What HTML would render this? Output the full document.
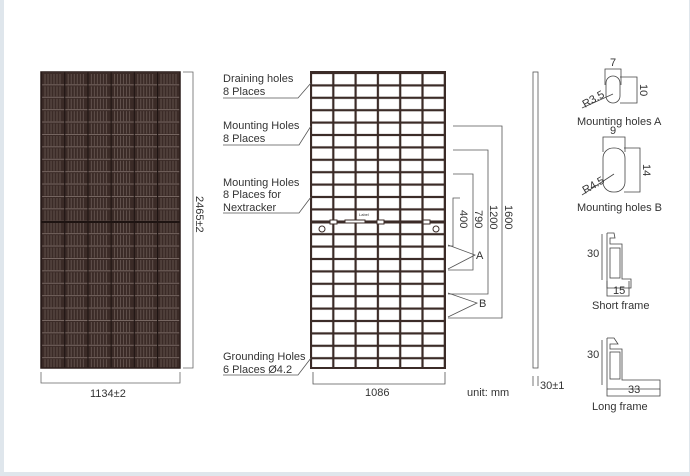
<!DOCTYPE html>
<html><head><meta charset="utf-8"><style>
html,body{margin:0;padding:0;background:#fff}
body{width:690px;height:476px;overflow:hidden;position:relative;font-family:"Liberation Sans",sans-serif}
#frame{position:absolute;left:0;top:0;width:690px;height:476px;box-sizing:border-box;border-left:4px solid #dfe6ec;border-bottom:4px solid #dfe6ec;border-right:1px solid #dfe6ec}
svg{position:absolute;left:0;top:0}
text{font-family:"Liberation Sans",sans-serif;font-size:11px;fill:#333}
</style></head><body><div id="frame"></div>
<svg width="690" height="476" viewBox="0 0 690 476">
<defs>
<pattern id="dk" x="41" y="73" width="23.2" height="12.4" patternUnits="userSpaceOnUse">
<rect width="23.2" height="12.4" fill="#3b2b27"/>
<g stroke="#7a6a64" stroke-width="0.6">
<line x1="4" y1="1" x2="4" y2="11"/><line x1="7" y1="1" x2="7" y2="11"/><line x1="10" y1="1" x2="10" y2="11"/><line x1="13" y1="1" x2="13" y2="11"/><line x1="16" y1="1" x2="16" y2="11"/><line x1="19" y1="1" x2="19" y2="11"/>
</g>
<line x1="0" y1="11.8" x2="23.2" y2="11.8" stroke="#9a8a84" stroke-width="0.6"/>
<line x1="0.5" y1="0" x2="0.5" y2="12.4" stroke="#1e1412" stroke-width="1.2"/>
</pattern>
<pattern id="gr" x="311" y="73" width="22.3" height="12.4" patternUnits="userSpaceOnUse">
<rect width="22.3" height="12.4" fill="#fff"/>
<rect x="0" y="0" width="22.3" height="12.4" fill="none" stroke="#3b2b27" stroke-width="2.2"/>
</pattern>
</defs>

<!-- left panel -->
<rect x="41" y="72" width="139" height="296" fill="url(#dk)" stroke="#2a1d1a" stroke-width="1.5"/>
<line x1="41" y1="222" x2="180" y2="222" stroke="#1e1412" stroke-width="2"/>
<g stroke="#666" stroke-width="0.8" fill="none">
<polyline points="183,72 193,72 193,368 183,368"/>
<polyline points="41,372 41,383 180,383 180,372"/>
</g>
<text x="0" y="0" transform="translate(196,196) rotate(90)">2465±2</text>
<text x="90" y="397">1134±2</text>

<!-- middle panel -->
<rect x="311" y="73" width="134" height="295" fill="url(#gr)"/>
<rect x="311" y="72" width="134" height="296" fill="none" stroke="#3b2b27" stroke-width="2"/>
<line x1="311" y1="222" x2="445" y2="222" stroke="#3b2b27" stroke-width="3"/>
<g fill="#fff" stroke="#3b2b27" stroke-width="1">
<rect x="330" y="220" width="7" height="4"/><rect x="345" y="220" width="20" height="3"/><rect x="377" y="220" width="7" height="4"/><rect x="423" y="220" width="7" height="4"/>
<circle cx="322" cy="229" r="3"/><circle cx="436" cy="229" r="3"/>
</g>
<text x="359" y="216" style="font-size:4px">Label</text>
<g stroke="#555" stroke-width="0.8" fill="none">
<polyline points="223,98 298,98 311,83"/>
<polyline points="223,145 299,145 311,126"/>
<polyline points="223,213 299,213 311,197"/>
<polyline points="223,375 298,375 311,358"/>
<polyline points="313,372 313,384 445,384 445,372"/>
<polyline points="453,126 502,126 502,318 448,318"/>
<polyline points="453,150 488,150 488,294 448,294"/>
<polyline points="453,174 473,174 473,270 448,270"/>
<polyline points="460,198 453,198 453,246 448,246"/>
<polyline points="448,245 475,255 448,269"/>
<polyline points="448,293 477,303 448,317"/>
</g>
<text x="223" y="82">Draining holes</text><text x="223" y="95">8 Places</text>
<text x="223" y="129">Mounting Holes</text><text x="223" y="142">8 Places</text>
<text x="223" y="186">Mounting Holes</text><text x="223" y="198">8 Places for</text><text x="223" y="211">Nextracker</text>
<text x="223" y="360">Grounding Holes</text><text x="223" y="373">6 Places Ø4.2</text>
<text x="365" y="396">1086</text>
<text x="467" y="396">unit: mm</text>
<text x="476" y="259">A</text><text x="479" y="307">B</text>
<text transform="translate(460,210) rotate(90)">400</text>
<text transform="translate(475,210) rotate(90)">790</text>
<text transform="translate(490,205) rotate(90)">1200</text>
<text transform="translate(505,205) rotate(90)">1600</text>

<!-- side frame -->
<rect x="533" y="72" width="5" height="296" fill="#fff" stroke="#555" stroke-width="0.8"/>
<g stroke="#555" stroke-width="0.8" fill="none"><polyline points="533,376 533,386"/><polyline points="538,376 538,386"/></g>
<text x="540" y="389">30±1</text>

<!-- mounting holes A -->
<g stroke="#444" stroke-width="0.8" fill="none">
<polyline points="605,85 605,69 621,69 621,85"/>
<polyline points="620,77 637,77 637,103 620,103"/>
<rect x="606" y="76" width="14" height="27" rx="7"/>
<line x1="582" y1="108" x2="613" y2="94"/>
<polyline points="603,152 603,137 625,137 625,152"/>
<polyline points="624,148 640,148 640,192 624,192"/>
<rect x="603" y="148" width="22" height="44" rx="10"/>
<line x1="582" y1="195" x2="614" y2="174"/>
</g>
<text x="610" y="66">7</text>
<text transform="translate(640,84) rotate(90)">10</text>
<text transform="translate(585,108) rotate(-30)">R3.5</text>
<text x="577" y="125">Mounting holes A</text>
<text x="610" y="134">9</text>
<text transform="translate(643,164) rotate(90)">14</text>
<text transform="translate(585,194) rotate(-30)">R4.5</text>
<text x="577" y="211">Mounting holes B</text>

<!-- short frame -->
<g stroke="#444" stroke-width="0.8" fill="none">
<polyline points="602,234 602,280"/>
<polyline points="607,233 614,233 615,238 610,238 610,244 622,244 622,279 631,279 631,288 607,288 607,233"/>
<rect x="610" y="248" width="10" height="30"/>
<polyline points="607,281 607,296 629,296 629,281"/>
<polyline points="602,340 602,385"/>
<polyline points="607,338 614,338 618,344 610,344 610,349 622,349 622,380 660,380 660,389 607,389 607,338"/>
<rect x="610" y="352" width="10" height="27"/>
<polyline points="607,389 607,396 660,396 660,389"/>
</g>
<text x="587" y="257">30</text><text x="613" y="294">15</text>
<text x="592" y="309">Short frame</text>
<text x="587" y="358">30</text><text x="628" y="393">33</text>
<text x="592" y="410">Long frame</text>
</svg></body></html>
